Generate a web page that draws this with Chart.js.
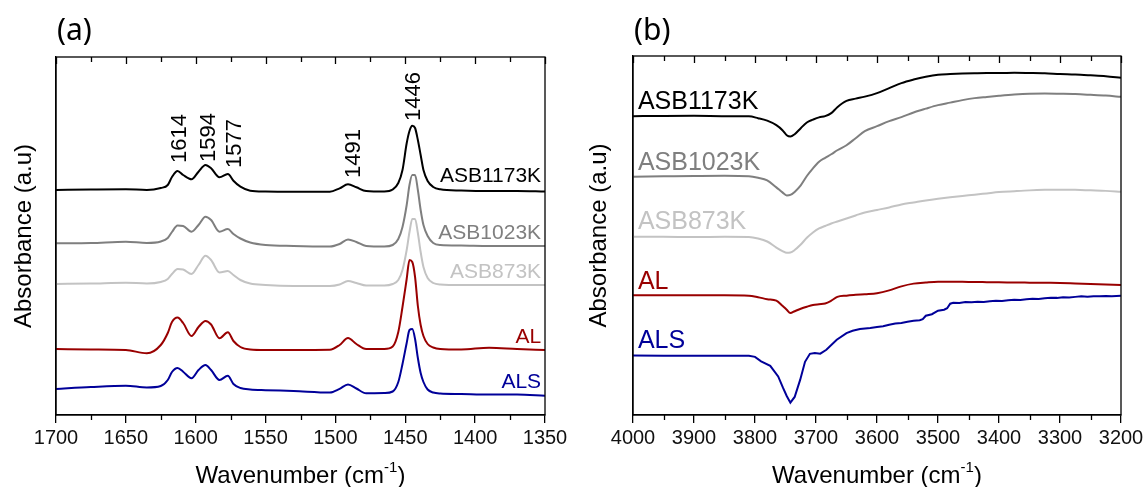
<!DOCTYPE html>
<html>
<head>
<meta charset="utf-8">
<script src="https://cdn.jsdelivr.net/npm/chart.js@4.4.0/dist/chart.umd.min.js"></script>
<style>
  body { margin: 0; background: #fff; }
  #wrap { position: relative; width: 1147px; height: 487px; }
  canvas { position: absolute; top: 0; }
  #chartA { left: 0; }
  #chartB { left: 580px; }
</style>
</head>
<body>
<div id="wrap">
  <canvas id="chartA" width="580" height="487"></canvas>
  <canvas id="chartB" width="567" height="487"></canvas>
</div>
<script>
// ---------- data ----------
const seriesNames = ["ASB1173K", "ASB1023K", "ASB873K", "AL", "ALS"];

// panel (a): 1700 - 1350 cm-1
const gridA = [1700, 1675, 1650, 1635, 1625, 1620, 1617, 1613, 1609, 1603, 1598, 1593, 1589, 1583, 1577, 1573, 1568, 1561,
  1550, 1530, 1504, 1497, 1491, 1485, 1478, 1465, 1459, 1455, 1452, 1449, 1447, 1445, 1443, 1441, 1439, 1437, 1434, 1430,
  1425, 1410, 1390, 1370, 1350];
const a1173 = [2.25, 2.255, 2.258, 2.25, 2.27, 2.30, 2.38, 2.44, 2.40, 2.357, 2.433, 2.50, 2.467, 2.377, 2.41, 2.343, 2.283, 2.243,
  2.235, 2.233, 2.233, 2.267, 2.307, 2.277, 2.24, 2.235, 2.255, 2.32, 2.45, 2.717, 2.84, 2.893, 2.87, 2.75, 2.60, 2.45, 2.34, 2.28,
  2.257, 2.245, 2.24, 2.24, 2.235];
const a1023 = [1.717, 1.72, 1.733, 1.72, 1.735, 1.77, 1.83, 1.895, 1.89, 1.833, 1.90, 1.983, 1.95, 1.833, 1.86, 1.81, 1.765, 1.725,
  1.70, 1.69, 1.685, 1.71, 1.755, 1.73, 1.69, 1.685, 1.70, 1.76, 1.88, 2.10, 2.30, 2.40, 2.40, 2.25, 2.05, 1.90, 1.79, 1.72,
  1.70, 1.695, 1.69, 1.69, 1.69];
const a873 = [1.31, 1.315, 1.323, 1.315, 1.33, 1.36, 1.41, 1.46, 1.455, 1.41, 1.50, 1.593, 1.55, 1.425, 1.44, 1.40, 1.35, 1.315,
  1.30, 1.29, 1.29, 1.305, 1.34, 1.32, 1.295, 1.295, 1.31, 1.35, 1.45, 1.65, 1.83, 1.96, 1.96, 1.82, 1.63, 1.48, 1.37, 1.32,
  1.305, 1.30, 1.30, 1.30, 1.30];
const aAL = [0.66, 0.655, 0.65, 0.617, 0.70, 0.82, 0.93, 0.975, 0.92, 0.79, 0.88, 0.94, 0.905, 0.767, 0.827, 0.74, 0.68, 0.655,
  0.65, 0.65, 0.652, 0.70, 0.77, 0.71, 0.66, 0.66, 0.685, 0.83, 1.08, 1.36, 1.55, 1.53, 1.38, 1.09, 0.90, 0.79, 0.71, 0.675,
  0.66, 0.655, 0.673, 0.66, 0.65];
const aALS = [0.26, 0.28, 0.293, 0.275, 0.29, 0.35, 0.43, 0.47, 0.433, 0.367, 0.45, 0.50, 0.45, 0.35, 0.393, 0.31, 0.27, 0.255,
  0.248, 0.24, 0.225, 0.262, 0.305, 0.265, 0.217, 0.22, 0.235, 0.33, 0.51, 0.72, 0.85, 0.86, 0.76, 0.57, 0.42, 0.33, 0.255, 0.225,
  0.215, 0.21, 0.205, 0.205, 0.193];
const peakLabels = ["1614", "1594", "1577", "1491", "1446"];

// panel (b): 4000 - 3200 cm-1
const gridB = [4000, 3950, 3900, 3850, 3810, 3795, 3780, 3765, 3755, 3748, 3742, 3735, 3725, 3715, 3705, 3695, 3685, 3675, 3665,
  3650, 3635, 3620, 3600, 3580, 3560, 3540, 3520, 3500, 3480, 3460, 3440, 3420, 3400, 3375, 3350, 3325, 3300, 3275, 3250, 3225, 3200];
const b1173 = [2.98, 2.982, 2.983, 2.98, 2.978, 2.96, 2.935, 2.89, 2.84, 2.79, 2.777, 2.80, 2.86, 2.917, 2.945, 2.968, 2.98, 3.01, 3.07,
  3.133, 3.155, 3.175, 3.21, 3.26, 3.31, 3.345, 3.373, 3.393, 3.40, 3.405, 3.408, 3.41, 3.41, 3.412, 3.41, 3.407, 3.40, 3.395, 3.387, 3.378, 3.363];
const b1023 = [2.377, 2.38, 2.383, 2.385, 2.38, 2.365, 2.34, 2.27, 2.22, 2.19, 2.195, 2.225, 2.29, 2.383, 2.46, 2.525, 2.565, 2.60, 2.64,
  2.69, 2.76, 2.83, 2.88, 2.93, 2.97, 3.017, 3.055, 3.09, 3.115, 3.14, 3.16, 3.172, 3.183, 3.195, 3.203, 3.205, 3.203, 3.20, 3.193, 3.185, 3.173];
const b873 = [1.777, 1.777, 1.775, 1.777, 1.775, 1.76, 1.73, 1.67, 1.635, 1.617, 1.62, 1.645, 1.70, 1.767, 1.82, 1.86, 1.885, 1.91, 1.93,
  1.96, 1.99, 2.02, 2.045, 2.07, 2.10, 2.12, 2.14, 2.157, 2.172, 2.185, 2.197, 2.21, 2.223, 2.232, 2.24, 2.245, 2.247, 2.245, 2.24, 2.235, 2.227];
const bAL = [1.193, 1.193, 1.193, 1.193, 1.19, 1.175, 1.155, 1.14, 1.09, 1.05, 1.017, 1.035, 1.06, 1.08, 1.097, 1.105, 1.112, 1.14, 1.178,
  1.19, 1.198, 1.205, 1.215, 1.243, 1.283, 1.31, 1.322, 1.33, 1.33, 1.328, 1.327, 1.325, 1.323, 1.322, 1.32, 1.318, 1.317, 1.312, 1.307, 1.302, 1.297];
// ALS is noisier, read on its own grid
const gridBALS = [4000, 3950, 3900, 3850, 3810, 3800, 3790, 3775, 3762, 3754, 3748, 3742, 3735, 3726, 3718, 3710, 3702, 3693, 3683,
  3666, 3650, 3640, 3628, 3611, 3600, 3590, 3580, 3570, 3560, 3550, 3540, 3530, 3525, 3520, 3510, 3500, 3490, 3485, 3480, 3475,
  3465, 3455, 3445, 3435, 3425, 3415, 3405, 3395, 3385, 3375, 3365, 3355, 3345, 3335, 3325, 3315, 3305, 3295, 3285, 3275, 3265,
  3255, 3245, 3235, 3225, 3215, 3200];
const bALS = [0.593, 0.592, 0.59, 0.592, 0.59, 0.58, 0.535, 0.49, 0.385, 0.27, 0.19, 0.123, 0.18, 0.35, 0.53, 0.61, 0.617, 0.612, 0.65,
  0.75, 0.817, 0.84, 0.857, 0.867, 0.878, 0.885, 0.90, 0.912, 0.918, 0.93, 0.94, 0.945, 0.955, 0.99, 1.005, 1.04, 1.05, 1.065, 1.11, 1.12,
  1.118, 1.127, 1.125, 1.13, 1.128, 1.135, 1.14, 1.138, 1.145, 1.15, 1.148, 1.155, 1.16, 1.158, 1.165, 1.17, 1.168, 1.175, 1.172, 1.178, 1.183,
  1.18, 1.185, 1.183, 1.187, 1.185, 1.19];

// ---------- styling ----------
const colors = ["#000000", "#7f7f7f", "#c3c3c3", "#990000", "#000099"];
const FONT = "'Liberation Sans', Arial, sans-serif";
Chart.defaults.font.family = FONT;
Chart.defaults.color = "#000";

function pts(xs, ys) {
  return xs.map((x, i) => ({ x: x, y: ys[i] }));
}

// frame, inner top ticks, minor ticks and annotations
const decor = {
  id: "decor",
  afterDraw(chart, args, o) {
    const { ctx, chartArea: ca, scales } = chart;
    const x = scales.x, y = scales.y;
    ctx.save();
    ctx.strokeStyle = "#000";
    ctx.lineWidth = 1.3;
    ctx.strokeRect(ca.left, ca.top, ca.right - ca.left, ca.bottom - ca.top);

    ctx.beginPath();
    for (let v = x.min; v <= x.max + 1e-6; v += o.step / 2) {
      const px = Math.round(x.getPixelForValue(v)) + 0.5;
      const major = Math.abs((v - x.min) % o.step) < 1e-6;
      ctx.moveTo(px, ca.top);
      ctx.lineTo(px, ca.top + (major ? 7 : 5));
      if (!major) {
        ctx.moveTo(px, ca.bottom);
        ctx.lineTo(px, ca.bottom + 5);
      }
    }
    ctx.stroke();

    // series labels
    ctx.textBaseline = "alphabetic";
    o.labels.forEach((l, i) => {
      ctx.font = o.labelSize + "px " + FONT;
      ctx.fillStyle = colors[i];
      ctx.textAlign = o.labelAlign;
      ctx.fillText(seriesNames[i], x.getPixelForValue(o.labelX), y.getPixelForValue(l));
    });

    // peak labels (rotated)
    (o.peaks || []).forEach((p, i) => {
      ctx.save();
      ctx.font = "22px " + FONT;
      ctx.fillStyle = "#000";
      ctx.textAlign = "left";
      ctx.translate(x.getPixelForValue(p[0]) + 8, y.getPixelForValue(p[1]));
      ctx.rotate(-Math.PI / 2);
      ctx.fillText(peakLabels[i], 0, 0);
      ctx.restore();
    });

    // panel letter
    ctx.font = "30px 'Noto Sans', sans-serif";
    ctx.fillStyle = "#000";
    ctx.textAlign = "left";
    ctx.fillText(o.panel, ca.left + 1, 40);

    // x axis title with superscript
    const cx = (ca.left + ca.right) / 2;
    const base = 483;
    ctx.font = "24px " + FONT;
    const t1 = "Wavenumber (cm", t3 = ")";
    const w1 = ctx.measureText(t1).width, w3 = ctx.measureText(t3).width;
    ctx.font = "15px " + FONT;
    const w2 = ctx.measureText("-1").width;
    let sx = cx - (w1 + w2 + w3) / 2;
    ctx.font = "24px " + FONT;
    ctx.fillText(t1, sx, base);
    ctx.font = "15px " + FONT;
    ctx.fillText("-1", sx + w1, base - 11);
    ctx.font = "24px " + FONT;
    ctx.fillText(t3, sx + w1 + w2, base);
    ctx.restore();
  }
};

function makeChart(id, datasets, xmin, xmax, step, pad, yWidth, yTitlePad, decorOpts) {
  return new Chart(document.getElementById(id), {
    type: "line",
    data: { datasets: datasets },
    options: {
      responsive: false,
      animation: false,
      layout: { padding: pad },
      plugins: { legend: { display: false }, tooltip: { enabled: false }, decor: decorOpts },
      elements: { point: { radius: 0 } },
      scales: {
        x: {
          type: "linear", reverse: true, min: xmin, max: xmax,
          ticks: { stepSize: step, font: { size: 20 }, color: "#111", padding: 3, maxRotation: 0,
            callback: (v) => String(v) },
          grid: { drawOnChartArea: false, drawTicks: true, tickLength: 8, color: "#000", lineWidth: 1.3 },
          border: { display: true, color: "#000", width: 1.3 },
          afterFit: (s) => { s.height = 72; }
        },
        y: {
          min: 0, max: 3.58,
          ticks: { display: false },
          grid: { display: false },
          border: { display: true, color: "#000", width: 1.3 },
          title: { display: true, text: "Absorbance (a.u)", font: { size: 24 }, color: "#000", padding: { top: yTitlePad, bottom: 0 } },
          afterFit: (s) => { s.width = yWidth; }
        }
      }
    },
    plugins: [decor]
  });
}

function lineSet(xs, ys, i, smooth) {
  return {
    label: seriesNames[i], data: pts(xs, ys), borderColor: colors[i], borderWidth: 2,
    cubicInterpolationMode: smooth ? "monotone" : "default", tension: 0, fill: false
  };
}

makeChart("chartA", [
  lineSet(gridA, a1173, 0, true),
  lineSet(gridA, a1023, 1, true),
  lineSet(gridA, a873, 2, true),
  lineSet(gridA, aAL, 3, true),
  lineSet(gridA, aALS, 4, true)
], 1350, 1700, 50, { top: 57, right: 35, bottom: 0, left: 0 }, 56, 10, {
  step: 50, panel: "(a)", labelX: 1352.8, labelAlign: "right", labelSize: 21,
  labels: [2.33, 1.76, 1.37, 0.72, 0.27],
  peaks: [[1612.7, 2.52], [1591.9, 2.53], [1573.3, 2.47], [1488.1, 2.37], [1445.2, 2.94]]
});

makeChart("chartB", [
  lineSet(gridB, b1173, 0, true),
  lineSet(gridB, b1023, 1, true),
  lineSet(gridB, b873, 2, true),
  lineSet(gridB, bAL, 3, true),
  lineSet(gridBALS, bALS, 4, false)
], 3200, 4000, 100, { top: 56, right: 26, bottom: 0, left: 0 }, 53, 5, {
  step: 100, panel: "(b)", labelX: 3992, labelAlign: "left", labelSize: 25,
  labels: [3.05, 2.44, 1.85, 1.26, 0.67]
});
</script>
</body>
</html>
